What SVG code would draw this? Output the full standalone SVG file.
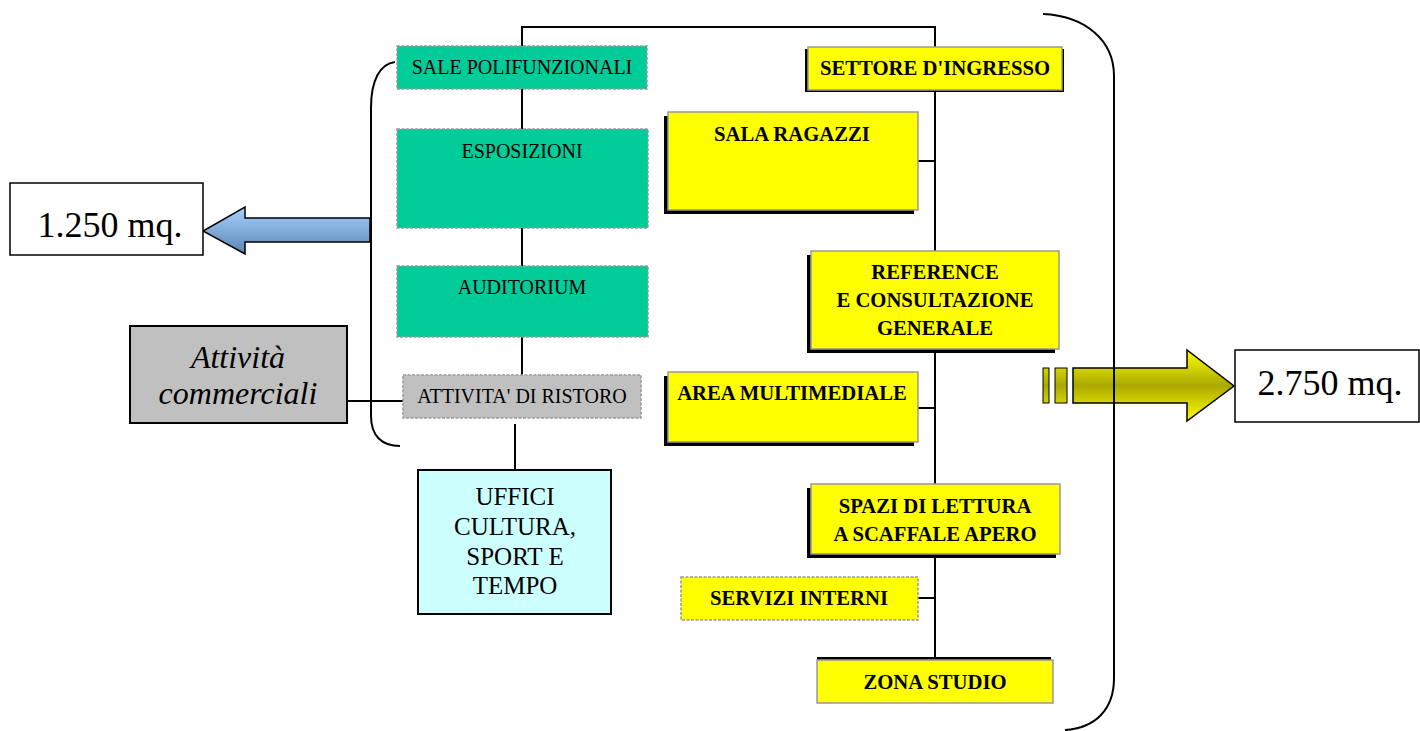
<svg xmlns="http://www.w3.org/2000/svg" width="1420" height="731" viewBox="0 0 1420 731">
<style>
text{font-family:"Liberation Serif","Times New Roman",serif;fill:#000}
.g{fill:#00CC99;stroke:#999;stroke-width:1.5;stroke-dasharray:3 1.5}
.gr{fill:#C0C0C0;stroke:#999;stroke-width:1.5;stroke-dasharray:3 1.5}
.y{fill:#FFFF00;stroke:#999;stroke-width:1.5}
.yd{fill:#FFFF00;stroke:#999;stroke-width:1.5;stroke-dasharray:3 1.5}
.sh{fill:#000}
.t20{font-size:20px;text-anchor:middle}
.b{font-size:20.7px;font-weight:bold;text-anchor:middle}
.ln{fill:none;stroke:#000;stroke-width:2}
</style>
<defs>
<linearGradient id="blue" x1="0" y1="0" x2="0" y2="1">
<stop offset="0" stop-color="#A6D2FF"/>
<stop offset="1" stop-color="#5C84B4"/>
</linearGradient>
<linearGradient id="olive" gradientUnits="userSpaceOnUse" x1="0" y1="350" x2="0" y2="421">
<stop offset="0" stop-color="#FFFF00"/>
<stop offset="0.5" stop-color="#A9A900"/>
<stop offset="1" stop-color="#FFFF00"/>
</linearGradient>
</defs>
<rect width="1420" height="731" fill="#fff"/>
<g id="connectors">
<path class="ln" d="M522,46 L522,27 L935,27 L935,47"/>
<path class="ln" d="M522,89 L522,375"/>
<path class="ln" d="M935,90 L935,657"/>
<path class="ln" d="M918,161 L935,161"/>
<path class="ln" d="M918,408 L935,408"/>
<path class="ln" d="M918,598 L935,598"/>
<path class="ln" d="M347,401 L403,401"/>
<path class="ln" d="M515,424 L515,470"/>
<path class="ln" d="M395,62 C380,64 371,80 371,108 L371,416 C371,436 382,446 400,446"/>
<path class="ln" d="M1043,14 C1085,16 1114,40 1114,76 L1114,678 C1114,710 1095,728 1065,730"/>
</g>
<g id="arrow-left">
<path d="M370,218 L245,218 L245,207 L203,231 L245,254 L245,242 L370,242 Z" fill="url(#blue)" stroke="#000" stroke-width="1.5"/>
</g>
<g id="arrow-right">
<rect x="1043" y="368" width="6" height="35" fill="url(#olive)" stroke="#000" stroke-width="1"/>
<rect x="1055" y="368" width="12" height="35" fill="url(#olive)" stroke="#000" stroke-width="1"/>
<path d="M1073,368 L1187,368 L1187,350 L1234,386 L1187,421 L1187,403 L1073,403 Z" fill="url(#olive)" stroke="#000" stroke-width="1.5"/>
<path d="M1114,350 L1114,421" class="ln"/>
</g>
<g id="n-1250">
<rect x="10" y="183" width="193" height="72" fill="#fff" stroke="#000" stroke-width="1.5"/>
<text x="110" y="237" font-size="36" text-anchor="middle">1.250 mq.</text>
</g>
<g id="n-2750">
<rect x="1235" y="350" width="184" height="72" fill="#fff" stroke="#000" stroke-width="1.5"/>
<text x="1330" y="395" font-size="36" text-anchor="middle">2.750 mq.</text>
</g>
<g id="n-sale">
<rect class="g" x="397" y="46" width="250" height="43"/>
<text class="t20" x="522" y="74">SALE POLIFUNZIONALI</text>
</g>
<g id="n-esposizioni">
<rect class="g" x="397" y="129" width="251" height="99"/>
<text class="t20" x="522" y="158">ESPOSIZIONI</text>
</g>
<g id="n-auditorium">
<rect class="g" x="397" y="266" width="251" height="71"/>
<text class="t20" x="522" y="294">AUDITORIUM</text>
</g>
<g id="n-ristoro">
<rect class="gr" x="403" y="375" width="238" height="43"/>
<text class="t20" x="522" y="403">ATTIVITA' DI RISTORO</text>
</g>
<g id="n-commerciali">
<rect x="130" y="326" width="217" height="97" fill="#C0C0C0" stroke="#000" stroke-width="2"/>
<text x="238" y="368" font-size="32" font-style="italic" text-anchor="middle">Attività</text>
<text x="238" y="404" font-size="32" font-style="italic" text-anchor="middle">commerciali</text>
</g>
<g id="n-uffici">
<rect x="418" y="470" width="193" height="144" fill="#CCFFFF" stroke="#000" stroke-width="2"/>
<text x="515" y="505" font-size="25" text-anchor="middle">UFFICI</text>
<text x="515" y="535" font-size="25" text-anchor="middle">CULTURA,</text>
<text x="515" y="565" font-size="25" text-anchor="middle">SPORT E</text>
<text x="515" y="594" font-size="25" text-anchor="middle">TEMPO</text>
</g>
<g id="n-settore">
<rect class="sh" x="805" y="49" width="259" height="43"/>
<rect class="y" x="808" y="47" width="254" height="43"/>
<text class="b" x="935" y="75">SETTORE D'INGRESSO</text>
</g>
<g id="n-ragazzi">
<rect class="sh" x="664" y="116" width="250" height="98"/>
<rect class="y" x="668" y="112" width="250" height="98"/>
<text class="b" x="792" y="141">SALA RAGAZZI</text>
</g>
<g id="n-reference">
<rect class="sh" x="807" y="255" width="248" height="98"/>
<rect class="y" x="811" y="251" width="248" height="98"/>
<text class="b" x="935" y="279">REFERENCE</text>
<text class="b" x="935" y="307">E CONSULTAZIONE</text>
<text class="b" x="935" y="335">GENERALE</text>
</g>
<g id="n-multimediale">
<rect class="sh" x="664" y="376" width="250" height="70"/>
<rect class="y" x="668" y="372" width="250" height="70"/>
<text class="b" x="792" y="400">AREA MULTIMEDIALE</text>
</g>
<g id="n-spazi">
<rect class="sh" x="807" y="488" width="249" height="70"/>
<rect class="y" x="811" y="484" width="249" height="70"/>
<text class="b" x="935" y="513">SPAZI DI LETTURA</text>
<text class="b" x="935" y="541">A SCAFFALE APERO</text>
</g>
<g id="n-servizi">
<rect class="yd" x="681" y="577" width="237" height="43"/>
<text class="b" x="799" y="605">SERVIZI INTERNI</text>
</g>
<g id="n-zona">
<rect class="sh" x="817" y="657" width="234" height="6"/>
<rect class="y" x="817" y="660" width="236" height="43"/>
<text class="b" x="935" y="689">ZONA STUDIO</text>
</g>
</svg>
